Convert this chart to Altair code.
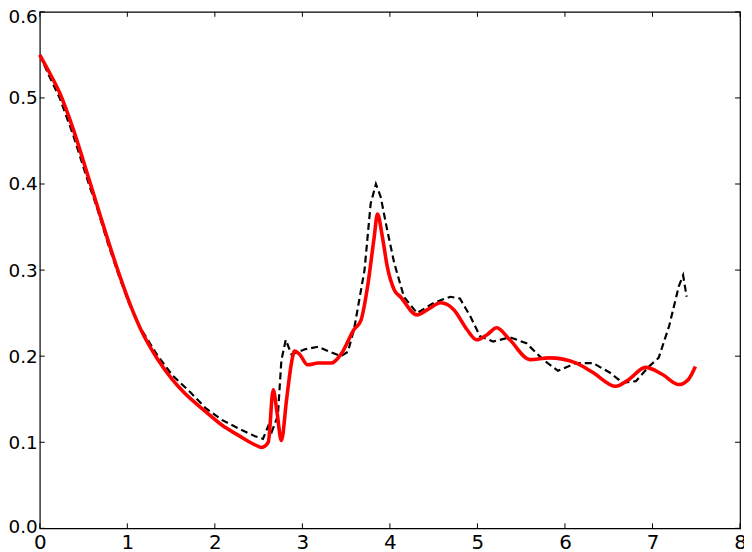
import altair as alt
import pandas as pd

# red solid curve
red_x = [0.00, 0.113, 0.227, 0.378, 0.567, 0.643, 0.775, 0.908, 1.021, 1.154, 1.343, 1.513,
         1.645, 1.891, 2.08, 2.27, 2.459, 2.535, 2.61, 2.667, 2.71, 2.76, 2.82, 2.875, 2.91, 2.97,
         3.06, 3.18, 3.33, 3.44, 3.59, 3.67, 3.745, 3.82, 3.858, 3.915, 3.97, 4.05, 4.12,
         4.31, 4.43, 4.58, 4.73, 4.88, 4.99, 5.11, 5.22, 5.37, 5.60, 5.82, 6.13, 6.32, 6.58,
         6.73, 6.92, 7.11, 7.30, 7.41, 7.49]
red_y = [0.550, 0.529, 0.506, 0.465, 0.404, 0.379, 0.336, 0.295, 0.263, 0.231, 0.197, 0.173,
         0.158, 0.136, 0.120, 0.108, 0.097, 0.094, 0.100, 0.161, 0.135, 0.102, 0.150, 0.192, 0.206, 0.202,
         0.190, 0.192, 0.192, 0.202, 0.231, 0.242, 0.281, 0.338, 0.365, 0.338, 0.304, 0.277, 0.269,
         0.248, 0.254, 0.262, 0.254, 0.231, 0.219, 0.225, 0.233, 0.219, 0.196, 0.198, 0.192, 0.181, 0.165,
         0.173, 0.187, 0.179, 0.167, 0.173, 0.188]

# black dashed curve
dash_x = [0.00, 0.10, 0.227, 0.378, 0.567, 0.643, 0.775, 0.908, 1.021, 1.154, 1.343, 1.513,
          1.72, 1.891, 2.08, 2.27, 2.459, 2.55, 2.61, 2.65, 2.72, 2.76, 2.81, 2.875, 3.03, 3.18, 3.29,
          3.44, 3.52, 3.59, 3.71, 3.78, 3.84, 3.895, 3.97, 4.05, 4.16, 4.31, 4.50, 4.69,
          4.80, 4.92, 5.03, 5.18, 5.37, 5.56, 5.75, 5.92, 6.13, 6.32, 6.51, 6.66, 6.81,
          6.96, 7.07, 7.19, 7.30, 7.35, 7.39]
dash_y = [0.550, 0.527, 0.500, 0.458, 0.398, 0.376, 0.332, 0.292, 0.261, 0.232, 0.201, 0.178,
          0.158, 0.140, 0.126, 0.116, 0.107, 0.104, 0.119, 0.112, 0.131, 0.195, 0.219, 0.202, 0.208, 0.211, 0.206,
          0.200, 0.205, 0.231, 0.300, 0.377, 0.400, 0.385, 0.346, 0.308, 0.269, 0.250, 0.262, 0.269,
          0.267, 0.246, 0.223, 0.217, 0.222, 0.215, 0.196, 0.183, 0.192, 0.192, 0.181, 0.169, 0.171,
          0.188, 0.198, 0.235, 0.281, 0.294, 0.269]

x_ticks = [0, 1, 2, 3, 4, 5, 6, 7, 8]
y_ticks = [0.0, 0.1, 0.2, 0.3, 0.4, 0.5, 0.6]

W, H = 705, 520
FONT = "DejaVu Sans"
xs = alt.Scale(domain=[0, 8], nice=False, zero=False)
ys = alt.Scale(domain=[0, 0.6], nice=False, zero=False)
xaxis = alt.Axis(values=x_ticks, format="d", title=None, grid=False, ticks=False, tickSize=0,
                 domain=False, labelFont=FONT, labelFontSize=20, labelColor="black",
                 labelPadding=4, labelFlush=False, labelOverlap=False)
yaxis = alt.Axis(values=y_ticks, format=".1f", title=None, grid=False, ticks=False, tickSize=0,
                 domain=False, labelFont=FONT, labelFontSize=18.5, labelColor="black",
                 labelPadding=2.5, labelFlush=False, labelOverlap=False,
                 labelOffset={"expr": "datum.value > 0.55 ? 5 : (datum.value < 0.05 ? -2 : 0)"})

red_df = pd.DataFrame({"x": red_x, "y": red_y})
dash_df = pd.DataFrame({"x": dash_x, "y": dash_y})
xt_df = pd.DataFrame({"x": x_ticks})
yt_df = pd.DataFrame({"y": y_ticks})

dashed = alt.Chart(dash_df).mark_line(color="black", strokeWidth=2.2, strokeDash=[7, 4]).encode(
    x=alt.X("x:Q", scale=xs, axis=xaxis), y=alt.Y("y:Q", scale=ys, axis=yaxis))
red = alt.Chart(red_df).mark_line(color="#ff0000", strokeWidth=3.6, interpolate="monotone").encode(
    x=alt.X("x:Q", scale=xs, axis=xaxis), y=alt.Y("y:Q", scale=ys, axis=yaxis))

xt_bot = alt.Chart(xt_df).mark_rule(color="black", strokeWidth=1).encode(
    x=alt.X("x:Q", scale=xs, axis=xaxis), y=alt.value(H), y2=alt.value(H - 5))
xt_top = alt.Chart(xt_df).mark_rule(color="black", strokeWidth=1).encode(
    x=alt.X("x:Q", scale=xs, axis=xaxis), y=alt.value(0), y2=alt.value(5))
yt_left = alt.Chart(yt_df).mark_rule(color="black", strokeWidth=1).encode(
    y=alt.Y("y:Q", scale=ys, axis=yaxis), x=alt.value(0), x2=alt.value(5))
yt_right = alt.Chart(yt_df).mark_rule(color="black", strokeWidth=1).encode(
    y=alt.Y("y:Q", scale=ys, axis=yaxis), x=alt.value(W), x2=alt.value(W - 5))

chart = alt.layer(xt_bot, xt_top, yt_left, yt_right, dashed, red).properties(
    width=W, height=H,
    autosize=alt.AutoSizeParams(type="none"),
    padding={"left": 32, "top": 2, "right": 4, "bottom": 30},
    background="white",
).configure_view(stroke="black", strokeWidth=1.2)

chart.save("out.html", embed_options={"renderer": "svg", "actions": False})
